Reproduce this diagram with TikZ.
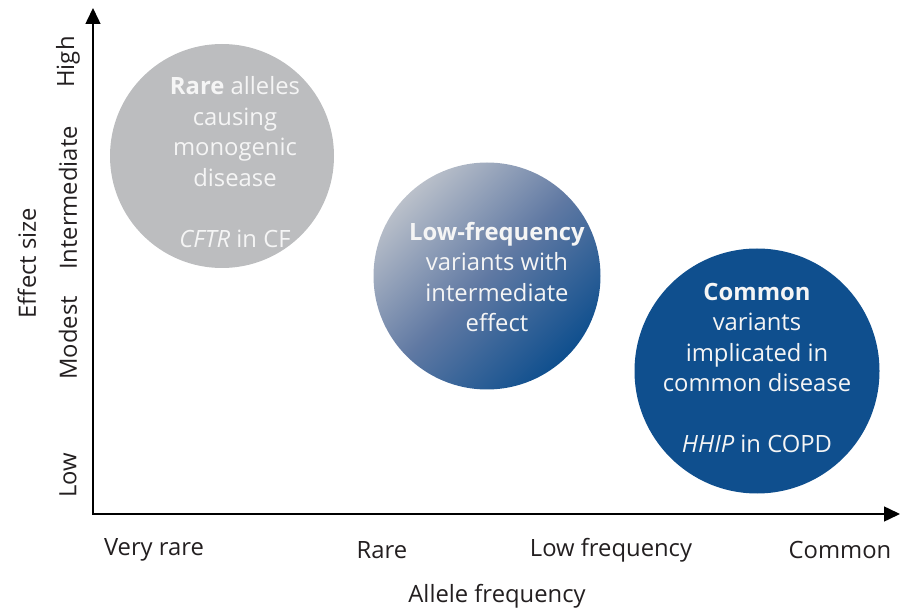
\documentclass[tikz,border=0pt]{standalone}
\usepackage{fontspec}
\setmainfont{Open Sans}
\usetikzlibrary{arrows.meta}

\definecolor{raregray}{HTML}{BCBDBF}
\definecolor{lowgray}{HTML}{BAC0CA}
\definecolor{midblue}{HTML}{6079A3}
\definecolor{commonblue}{HTML}{0F4F8E}
\definecolor{bubblefont}{HTML}{F5F5F5}
\definecolor{axisfont}{HTML}{231F20}

\begin{document}
\begin{tikzpicture}[x=1pt,y=-1pt,
    axislabel/.style={font=\fontsize{23.8}{25}\selectfont, text=axisfont},
    ylabel/.style={axislabel, rotate=90},
    bubble/.style={circle, minimum size=#1, inner sep=0pt},
    bubbletext/.style={align=center, text=bubblefont, font=\fontsize{23.8}{30.5}\selectfont}]
    \useasboundingbox (0,0) rectangle (900,609);

    \coordinate (ytop) at (93,8);
    \coordinate (origin) at (93,514);
    \coordinate (xend) at (900,514);
    \draw[line width=1.5pt, {Triangle[width=15pt,length=16pt]}-{Triangle[width=15pt,length=16pt]}]
        (ytop) -- (origin) -- (xend);

    \node[bubble=224pt, fill=raregray] (rare) at (222,156) {};
    \node[bubble=227pt, top color=lowgray, bottom color=commonblue, middle color=midblue,
          shading angle=45] (lowfreq) at (487,276) {};
    \node[bubble=245pt, fill=commonblue] (common) at (757,371) {};

    \node[bubbletext] (raretext) at (235,162)
        {\textbf{Rare} alleles\\causing\\monogenic\\disease\\[30.5pt]\textit{CFTR} in CF};
    \node[bubbletext] (lowfreqtext) at (497,277)
        {\textbf{Low-frequency}\\variants with\\intermediate\\effect};
    \node[bubbletext] (commontext) at (757,368)
        {\textbf{Common}\\variants\\implicated in\\common disease\\[30.5pt]\textit{HHIP} in COPD};

    \node[ylabel] (high) at (68,62) {High};
    \node[ylabel] (intermediate) at (68,198) {Intermediate};
    \node[ylabel] (modest) at (68,338) {Modest};
    \node[ylabel] (low) at (68,475) {Low};
    \node[ylabel] (effectsize) at (27,263) {Effect size};

    \node[axislabel] (veryrare) at (154,550) {Very rare};
    \node[axislabel] (rarefreq) at (382,550) {Rare};
    \node[axislabel] (lowfrequency) at (611,550) {Low frequency};
    \node[axislabel] (commonfreq) at (840,550) {Common};
    \node[axislabel] (allelefreq) at (497,596) {Allele frequency};
\end{tikzpicture}
\end{document}
